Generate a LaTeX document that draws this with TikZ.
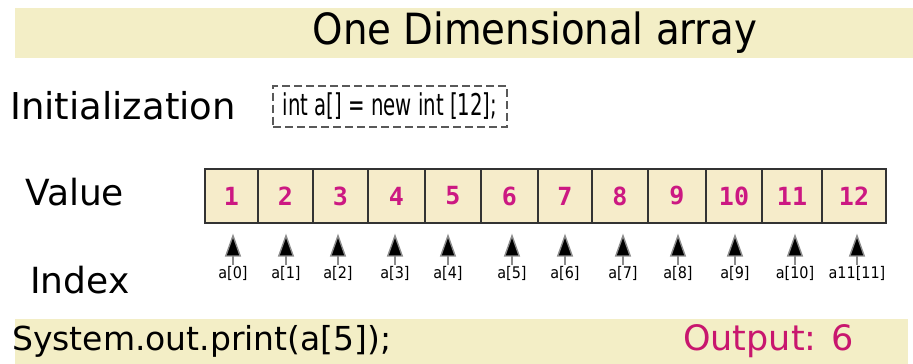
\documentclass[tikz,border=0pt]{standalone}
\usepackage{fontspec}
\setmainfont{DejaVu Sans}
\newfontfamily\condf{DejaVu Sans Condensed}
\newfontfamily\narrowf{DejaVu Sans Condensed}[FakeStretch=0.73]
\setmonofont{DejaVu Sans Mono}
\usetikzlibrary{arrows.meta}
\definecolor{banner}{RGB}{243,238,198}
\definecolor{cellfill}{RGB}{246,236,202}
\definecolor{numcol}{RGB}{204,24,130}
\definecolor{outcol}{RGB}{200,22,110}
\tikzset{
  x=1pt, y=-1pt,
  lbl/.style={font=\fontsize{36}{38}\selectfont, anchor=west, inner sep=0pt},
  cell/.style={draw=black!80, line width=1.3pt, fill=cellfill, minimum height=54pt, inner sep=0pt,
    font=\ttfamily\bfseries\fontsize{25}{27}\selectfont, text=numcol},
  idx/.style={font=\condf\fontsize{16}{18}\selectfont, inner sep=0pt},
  idxarrow/.style={draw=black!45, line width=1.4pt, -{Triangle[length=23pt,width=16pt,fill=black]}},
}
\begin{document}
\begin{tikzpicture}
\useasboundingbox (0,0) rectangle (913,364);
\fill[white] (0,0) rectangle (913,364);
% banners
\fill[banner] (15,8) rectangle (913,58);
\fill[banner] (15,319) rectangle (908,364);
\node[font=\condf\fontsize{43}{45}\selectfont, inner sep=0pt] (title) at (535,33) {One Dimensional array};
% initialization
\node[lbl, font=\fontsize{37}{39}\selectfont] (init) at (10,106) {Initialization};
\node[draw=black!65, dashed, dash pattern=on 8pt off 4pt, line width=2pt, minimum width=234pt, minimum height=41pt,
  font=\narrowf\fontsize{30}{32}\selectfont, inner sep=0pt] (code) at (390,106) {int a[] = new int [12];};
% value row
\node[lbl] (value) at (25,192) {Value};
\node[lbl] (index) at (30,280) {Index};
\foreach \l/\r/\v [count=\i from 0] in {205/258/1,258/313/2,313/368/3,368/425/4,425/481/5,481/538/6,538/592/7,592/648/8,648/706/9,706/762/10,762/822/11,822/886/12}{
  \node[cell, minimum width={(\r-\l)*1pt}] (c\i) at ({(\l+\r)/2},196) {\v};
}
\foreach \x/\t [count=\i from 0] in {233/a[0],286/a[1],338/a[2],395/a[3],448/a[4],512/a[5],565/a[6],623/a[7],678/a[8],735/a[9],795/a[10],857/a11[11]}{
  \node[idx] (i\i) at (\x,273) {\t};
  \draw[idxarrow, shorten <=1pt] (i\i.north) -- (i\i.north |- c\i.south) [shorten >=10pt];
}
% bottom
\node[font=\fontsize{33}{35}\selectfont, anchor=west, inner sep=0pt] (print) at (12,341) {System.out.print(a[5]);};
\node[font=\fontsize{35}{37}\selectfont, anchor=west, inner sep=0pt, text=outcol] (out) at (683,341) {Output: 6};
\end{tikzpicture}
\end{document}
